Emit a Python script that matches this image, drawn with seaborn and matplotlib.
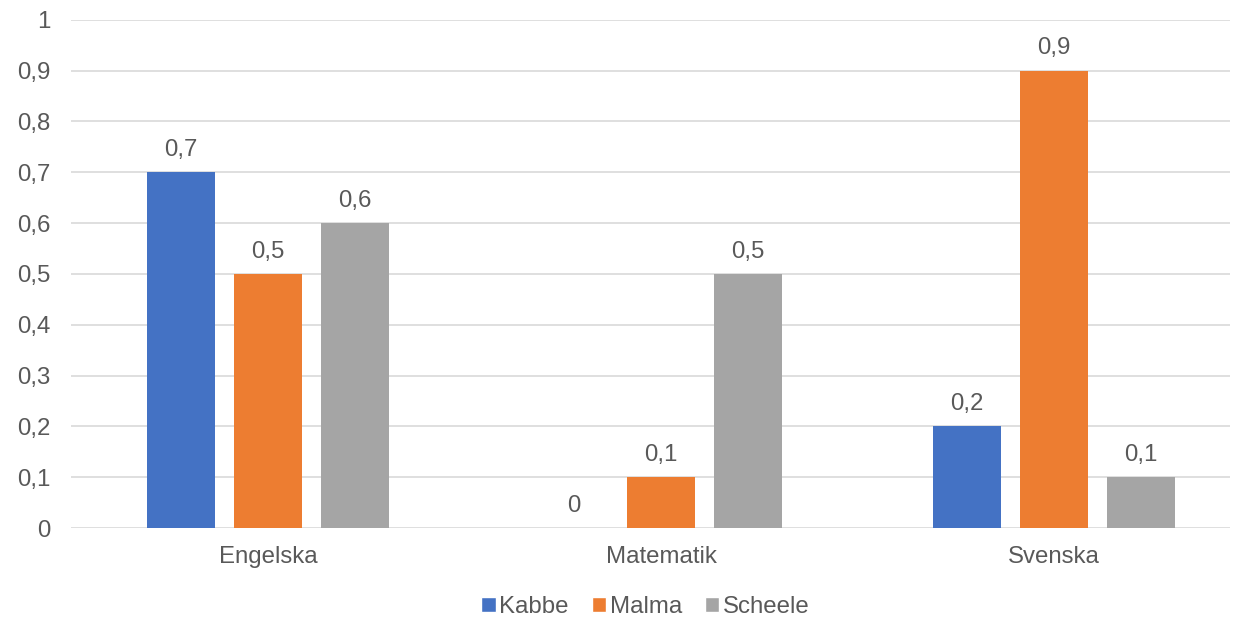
import pandas as pd
import matplotlib.pyplot as plt
import seaborn as sns
from matplotlib.patches import Patch

SUBJECTS = ["Engelska", "Matematik", "Svenska"]
SCHOOLS = ["Kabbe", "Malma", "Scheele"]
KABBE = [0.7, 0.0, 0.2]
MALMA = [0.5, 0.1, 0.9]
SCHEELE = [0.6, 0.5, 0.1]
Y_TICKS = [0, 0.1, 0.2, 0.3, 0.4, 0.5, 0.6, 0.7, 0.8, 0.9, 1.0]

COLORS = ["#4472C4", "#ED7D31", "#A5A5A5"]
TEXT = "#595959"
FS = 17.3


def fmt(v):
    s = f"{v:.1f}".rstrip("0").rstrip(".")
    return s.replace(".", ",")


def build_frame():
    rows = []
    for school, vals in zip(SCHOOLS, [KABBE, MALMA, SCHEELE]):
        for subj, v in zip(SUBJECTS, vals):
            rows.append({"subject": subj, "school": school, "value": v})
    return pd.DataFrame(rows)


def main():
    df = build_frame()

    sns.set_style("white")
    plt.rcParams["font.family"] = ["Liberation Sans", "DejaVu Sans"]

    fig = plt.figure(figsize=(12.34, 6.17), dpi=100)
    ax = fig.add_axes([0.0575, 0.144, 0.9395, 0.824])

    sns.barplot(data=df, x="subject", y="value", hue="school",
                order=SUBJECTS, hue_order=SCHOOLS, palette=COLORS,
                width=0.664, gap=0.218, ax=ax, legend=False,
                saturation=1, errorbar=None, linewidth=0, zorder=3)

    for cont in ax.containers:
        ax.bar_label(cont, labels=[fmt(v) for v in cont.datavalues],
                     padding=8, fontsize=FS, color=TEXT)

    ax.set_ylim(0, 1)
    ax.set_xlim(-0.501, 2.448)
    ax.set_yticks(Y_TICKS)
    ax.set_yticklabels([fmt(t) for t in Y_TICKS])
    ax.yaxis.grid(True, color="#D9D9D9", linewidth=1.2, zorder=0)
    ax.set_axisbelow(True)
    for s in ax.spines.values():
        s.set_visible(False)
    ax.tick_params(axis="both", length=0, labelsize=FS, labelcolor=TEXT)
    ax.tick_params(axis="y", pad=15)
    ax.tick_params(axis="x", pad=13)
    ax.set_xlabel("")
    ax.set_ylabel("")

    handles = [Patch(facecolor=c, label=s) for c, s in zip(COLORS, SCHOOLS)]
    fig.legend(handles=handles, loc="lower center", ncol=3, frameon=False,
               bbox_to_anchor=(0.523, -0.004), borderpad=0.05,
               borderaxespad=0, fontsize=FS, labelcolor=TEXT,
               handlelength=0.6, handleheight=0.6,
               handletextpad=0.15, columnspacing=0.95)

    fig.savefig("out.png", dpi=100)


if __name__ == "__main__":
    main()
